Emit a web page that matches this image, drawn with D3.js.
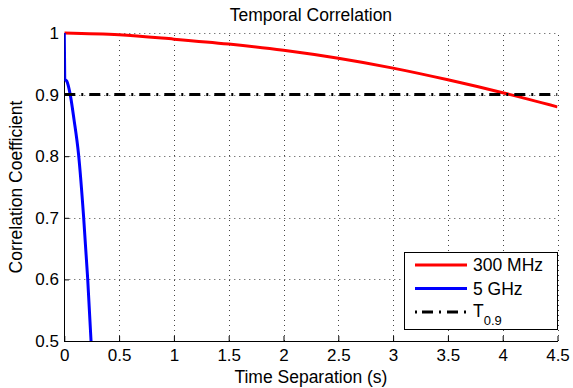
<!DOCTYPE html>
<html>
<head>
<meta charset="utf-8">
<script src="https://cdn.jsdelivr.net/npm/d3@7"></script>
<style>
  body { margin: 0; background: #fff; }
  text { font-family: "Liberation Sans", Arial, sans-serif; }
</style>
</head>
<body>
<script>
// values
let xTicks = [0, 0.5, 1, 1.5, 2, 2.5, 3, 3.5, 4, 4.5]
let yTicks = [0.5, 0.6, 0.7, 0.8, 0.9, 1]

let t300 = [0, 0.5, 1, 1.5, 2, 2.5, 3, 3.5, 4, 4.5]
let v300 = [1, 0.997, 0.990, 0.982, 0.972, 0.959, 0.943, 0.924, 0.903, 0.880]

let t5g = [0, 0.004, 0.022, 0.052, 0.089, 0.13, 0.176, 0.213, 0.244]
let v5g = [1, 0.925, 0.922, 0.902, 0.859, 0.803, 0.702, 0.602, 0.5]

let threshold = 0.9
let legendNames = ['300 MHz', '5 GHz', 'T']

let width = 573, height = 388
let m = {left: 64.3, right: 15.5, top: 33, bottom: 47}

let x = d3.scaleLinear().domain([0, 4.5]).range([m.left, width - m.right])
let y = d3.scaleLinear().domain([0.5, 1]).range([height - m.bottom, m.top])

let svg = d3.select('body').append('svg')
  .attr('width', width)
  .attr('height', height)

svg.append('defs').append('clipPath').attr('id', 'clip')
  .append('rect')
  .attr('x', x(0)).attr('y', y(1) - 2)
  .attr('width', x(4.5) - x(0)).attr('height', y(0.5) - y(1) + 2)

// dotted grid
let grid = svg.append('g')
  .attr('stroke', '#444')
  .attr('stroke-width', 1)
  .attr('stroke-dasharray', '1,4')
grid.selectAll('.gx').data(xTicks.slice(1)).enter().append('line')
  .attr('x1', d => Math.round(x(d)) + 0.5).attr('x2', d => Math.round(x(d)) + 0.5)
  .attr('y1', y(0.5)).attr('y2', y(1))
grid.selectAll('.gy').data(yTicks.slice(1)).enter().append('line')
  .attr('y1', d => Math.round(y(d)) + 0.5).attr('y2', d => Math.round(y(d)) + 0.5)
  .attr('x1', x(0)).attr('x2', x(4.5))

// axes, ticks pointing in
let xAxis = svg.append('g')
  .attr('transform', 'translate(0,' + Math.round(y(0.5)) + ')')
  .call(d3.axisBottom(x).tickValues(xTicks).tickFormat(d => d)
    .tickSizeInner(-5).tickSizeOuter(0).tickPadding(8))
let yAxis = svg.append('g')
  .attr('transform', 'translate(' + Math.round(x(0)) + ',0)')
  .call(d3.axisLeft(y).tickValues(yTicks).tickFormat(d => d)
    .tickSizeInner(-5).tickSizeOuter(0).tickPadding(5))

svg.selectAll('.domain, .tick line').attr('stroke', '#000')
svg.selectAll('.tick text')
  .attr('font-family', '"Liberation Sans", Arial, sans-serif')
  .attr('font-size', 17)
  .attr('fill', '#000')

// curves
let plot = svg.append('g').attr('clip-path', 'url(#clip)')

let redLine = d3.line().x(d => x(d[0])).y(d => y(d[1])).curve(d3.curveMonotoneX)
let blueLine = d3.line().x(d => x(d[0])).y(d => y(d[1])).curve(d3.curveMonotoneX)

plot.append('path')
  .datum(d3.zip(t300, v300))
  .attr('d', redLine)
  .attr('fill', 'none').attr('stroke', '#ff0000').attr('stroke-width', 3)

plot.append('path')
  .datum(d3.zip(t5g, v5g))
  .attr('d', blueLine)
  .attr('fill', 'none').attr('stroke', '#0000ff').attr('stroke-width', 3)

plot.append('line')
  .attr('x1', x(0)).attr('x2', x(4.5))
  .attr('y1', y(threshold)).attr('y2', y(threshold))
  .attr('stroke', '#000').attr('stroke-width', 3)
  .attr('stroke-dasharray', '11,6,2,6')

// labels
svg.append('text')
  .attr('x', (x(0) + x(4.5)) / 2).attr('y', 21)
  .attr('text-anchor', 'middle').attr('font-size', 17.5)
  .text('Temporal Correlation')

svg.append('text')
  .attr('x', (x(0) + x(4.5)) / 2).attr('y', 383)
  .attr('text-anchor', 'middle').attr('font-size', 17.5)
  .text('Time Separation (s)')

svg.append('text')
  .attr('transform', 'translate(22,' + (y(0.5) + y(1)) / 2 + ') rotate(-90)')
  .attr('text-anchor', 'middle').attr('font-size', 17.5)
  .text('Correlation Coefficient')

// legend
let lg = svg.append('g')
lg.append('rect')
  .attr('x', 404.5).attr('y', 252.5).attr('width', 153).attr('height', 77)
  .attr('fill', '#fff').attr('stroke', '#000')

let rowY = [265, 288.5, 312]
let styles = [
  {stroke: '#ff0000', dash: null},
  {stroke: '#0000ff', dash: null},
  {stroke: '#000', dash: '2,5,11,6,2,6,11,6,2'}
]
legendNames.forEach((name, i) => {
  lg.append('line')
    .attr('x1', 415).attr('x2', 467)
    .attr('y1', rowY[i]).attr('y2', rowY[i])
    .attr('stroke', styles[i].stroke).attr('stroke-width', 3)
    .attr('stroke-dasharray', styles[i].dash)
  let tx = lg.append('text')
    .attr('x', 473).attr('y', i < 2 ? rowY[i] + 6 : rowY[i] + 5)
    .attr('font-size', 17.5)
    .text(name)
  if (i == 2) {
    tx.append('tspan').attr('font-size', 13).attr('dy', 8).text('0.9')
  }
})
</script>
</body>
</html>
